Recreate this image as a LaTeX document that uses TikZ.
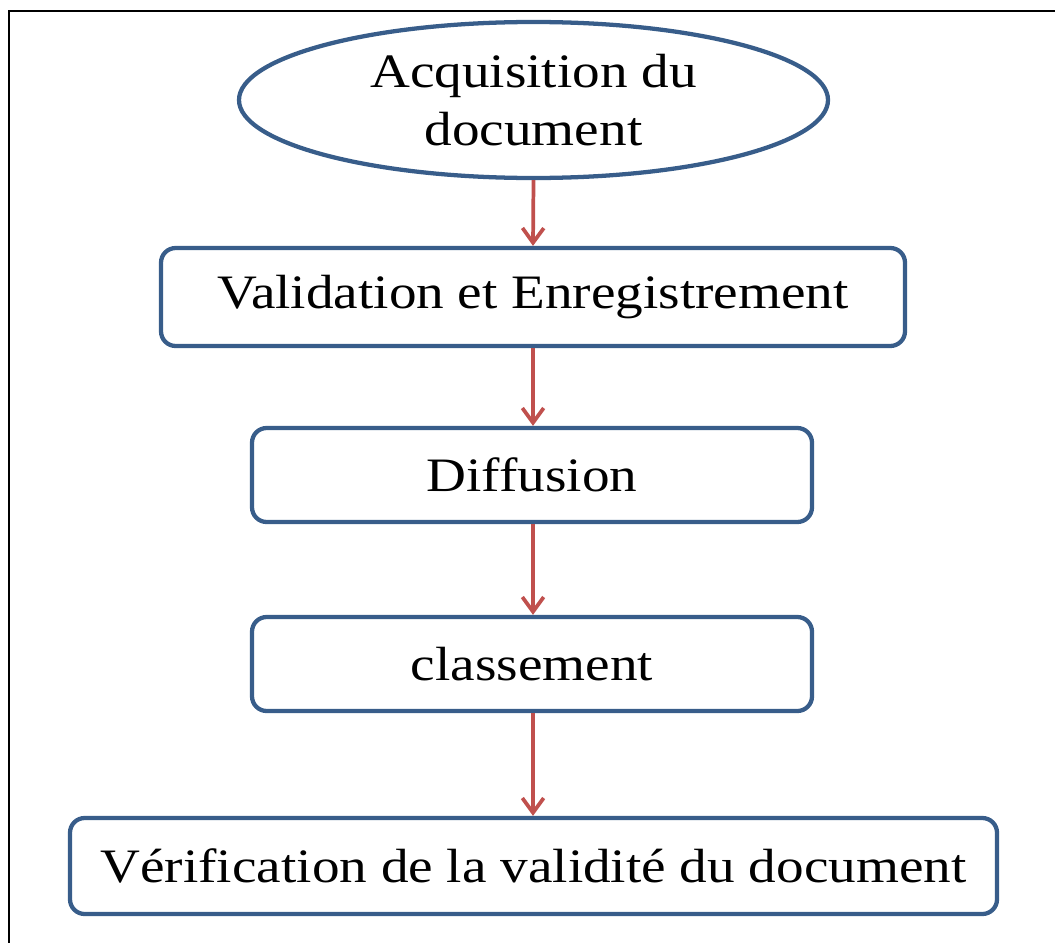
\documentclass[tikz,border=0pt]{standalone}
\usepackage{fontspec}
\setmainfont[FakeStretch=1.15]{Liberation Serif}
\usetikzlibrary{shapes.geometric,arrows.meta}
\definecolor{boxblue}{HTML}{385D8A}
\definecolor{arrowred}{HTML}{C0504D}
\begin{document}
\begin{tikzpicture}[x=0.75pt,y=-0.75pt,
  stage/.style={draw=boxblue, line width=3.2pt, rounded corners=11pt,
    inner sep=0pt, font=\fontsize{36pt}{43.5pt}\selectfont},
  startnode/.style={ellipse, draw=boxblue, line width=3.2pt, inner sep=0pt,
    align=center, font=\fontsize{36pt}{43.5pt}\selectfont},
  flow/.style={draw=arrowred, line width=2.8pt,
    -{Straight Barb[length=11pt,width=16pt,line width=2.8pt]}}]
  \useasboundingbox (0,0) rectangle (1055,942);
  % outer frame (only the left and top edges are inside the page)
  \draw[line width=1.2pt] (9,945) -- (9,11) -- (1058,11);

  \node[startnode, minimum width=441.75pt, minimum height=117pt] (acq)
    at (533.5,100) {Acquisition du\\document};
  \node[stage, minimum width=558pt, minimum height=73.5pt] (valid)
    at (533,297) {Validation et Enregistrement};
  \node[stage, minimum width=420pt, minimum height=70.5pt] (diff)
    at (532,475) {Diffusion};
  \node[stage, minimum width=420pt, minimum height=70.5pt] (classe)
    at (532,664) {classement};
  \node[stage, minimum width=695.25pt, minimum height=72pt] (verif)
    at (533.5,866) {Vérification de la validité du document};

  \draw[flow] (acq.south) -- (valid.north);
  \draw[flow] (valid.south) -- (valid.south |- diff.north);
  \draw[flow] (valid.south |- diff.south) -- (valid.south |- classe.north);
  \draw[flow] (valid.south |- classe.south) -- (verif.north -| valid.south);
\end{tikzpicture}
\end{document}
